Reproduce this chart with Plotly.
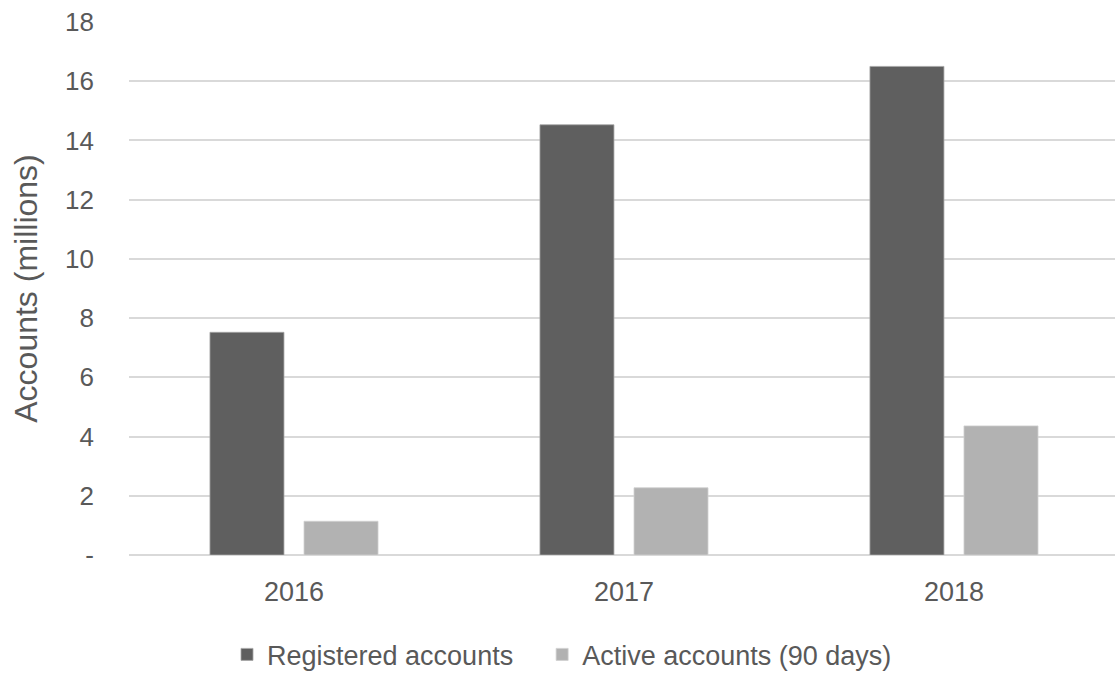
import plotly.graph_objects as go

years = ["2016", "2017", "2018"]
registered = [7.52, 14.53, 16.50]
active = [1.14, 2.27, 4.36]
y_ticks = [0, 2, 4, 6, 8, 10, 12, 14, 16, 18]
y_tick_text = ["-", "2", "4", "6", "8", "10", "12", "14", "16", "18"]

font_family = "Liberation Sans, Arial, sans-serif"
text_color = "#595959"

fig = go.Figure()
fig.add_trace(go.Bar(
    x=years, y=registered, name="Registered accounts", legend="legend",
    marker=dict(color="#5f5f5f", line=dict(color="#a6a6a6", width=0.8)),
))
fig.add_trace(go.Bar(
    x=years, y=active, name="Active accounts (90 days)", legend="legend2",
    marker=dict(color="#b2b2b2", line=dict(color="#d0d0d0", width=0.8)),
))

legend_common = dict(orientation="h", xanchor="left", yref="container", y=0.027,
                     yanchor="middle", font=dict(size=27, color=text_color), itemwidth=30,
                     bgcolor="rgba(0,0,0,0)")

fig.update_layout(
    width=1115, height=673,
    margin=dict(l=129, r=0, t=22, b=118),
    paper_bgcolor="white", plot_bgcolor="white",
    barmode="group", bargap=0.43, bargroupgap=0.213,
    font=dict(family=font_family, color=text_color, size=26),
    showlegend=True,
    legend=dict(x=0.0994, **legend_common),
    legend2=dict(x=0.419, **legend_common),
    xaxis=dict(range=[-0.5, 2.488], showgrid=False, showline=False, ticks="",
               tickfont=dict(size=27), ticklabelstandoff=18),
    yaxis=dict(range=[0, 18], tickvals=y_ticks, ticktext=y_tick_text,
               showgrid=True, gridcolor="#d9d9d9", gridwidth=2,
               zeroline=True, zerolinecolor="#d9d9d9", zerolinewidth=2,
               showline=False, ticks="", tickfont=dict(size=26),
               ticklabelstandoff=34,
               title=dict(text="Accounts (millions)", font=dict(size=32, color=text_color),
                          standoff=17)),
)

fig.write_html("out.html", config={"displayModeBar": False},
               post_script="document.body.style.margin='0';")
